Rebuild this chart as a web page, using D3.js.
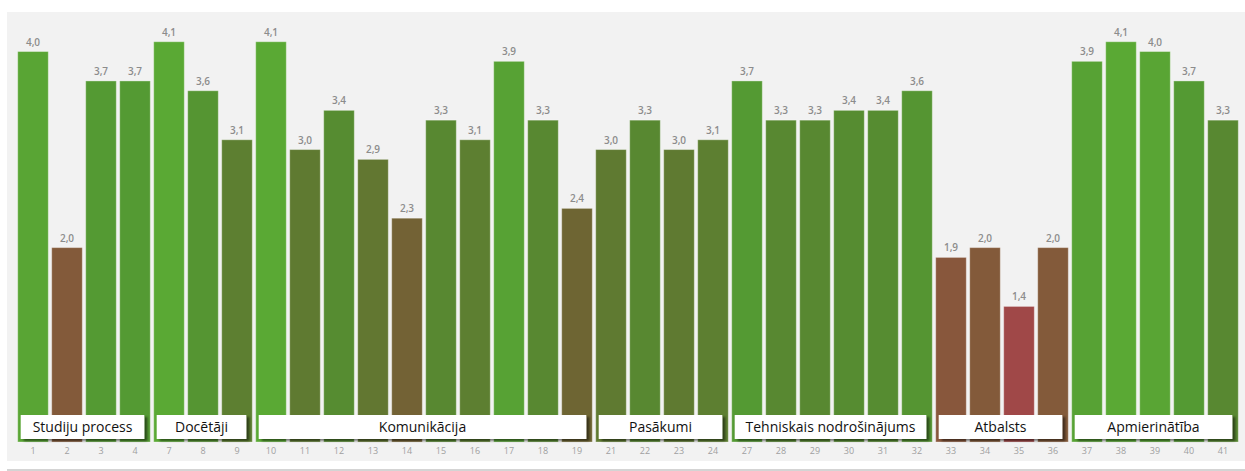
<!DOCTYPE html>
<html><head><meta charset="utf-8">
<script src="https://cdn.jsdelivr.net/npm/d3@7"></script>
<style>html,body{margin:0;padding:0;background:#fff;}svg{display:block;}</style>
</head><body>
<svg id="c" width="1245" height="471"></svg>
<script>
const categories = ["1","2","3","4","7","8","9","10","11","12","13","14","15","16","17","18","19","21","22","23","24","27","28","29","30","31","32","33","34","35","36","37","38","39","40","41"];
const values = [4.0,2.0,3.7,3.7,4.1,3.6,3.1,4.1,3.0,3.4,2.9,2.3,3.3,3.1,3.9,3.3,2.4,3.0,3.3,3.0,3.1,3.7,3.3,3.3,3.4,3.4,3.6,1.9,2.0,1.4,2.0,3.9,4.1,4.0,3.7,3.3];
const groupNames = ["Studiju process","Docētāji","Komunikācija","Pasākumi","Tehniskais nodrošinājums","Atbalsts","Apmierinātība"];
const groupFirst = ["1","7","10","21","27","33","37"];
const groupLast  = ["4","9","19","24","32","36","41"];

const svg = d3.select("#c");
const defs = svg.append("defs");
const f = defs.append("filter").attr("id","sh").attr("x","-10%").attr("y","-30%").attr("width","130%").attr("height","180%");
f.append("feDropShadow").attr("dx",3).attr("dy",2).attr("stdDeviation",1.2).attr("flood-color","#000").attr("flood-opacity",0.5);

svg.append("rect").attr("x",7).attr("y",12).attr("width",1238).attr("height",449).attr("fill","#f2f2f2");
svg.append("line").attr("x1",7).attr("x2",1245).attr("y1",470).attr("y2",470).attr("stroke","#d4d4d4").attr("stroke-width",2);

const x = d3.scaleBand().domain(categories).range([16,1240]).paddingInner(0.1).paddingOuter(0.05);
const y = d3.scaleLinear().domain([0.017,4.138]).range([442,38]);
const color = d3.scaleLinear()
  .domain([1.4,2.0,2.4,3.0,3.4,3.7,4.1])
  .range(["#a04848","#835a3a","#6e6533","#5f7a31","#568c31","#549a33","#5aa934"]);

const data = categories.map((c,i)=>({c, v: values[i]}));

svg.append("g").selectAll("rect").data(data).join("rect")
  .attr("x", d=>x(d.c)).attr("width", x.bandwidth())
  .attr("y", d=>y(d.v)).attr("height", d=>y.range()[0]-y(d.v))
  .attr("fill", d=>color(d.v))
  .attr("stroke","rgba(255,255,255,0.35)").attr("stroke-width",1);

const fmt = d3.format(".1f");
svg.append("g").selectAll("text").data(data).join("text")
  .attr("x", d=>x(d.c)+x.bandwidth()/2).attr("y", d=>y(d.v)-6)
  .attr("text-anchor","middle")
  .attr("font-family","'Open Sans', sans-serif").attr("font-size",10).attr("font-weight","600")
  .attr("fill","#8c8c8c")
  .text(d=>fmt(d.v).replace(".",","));

const xAxis = svg.append("g").attr("transform","translate(0,442)")
  .call(d3.axisBottom(x).tickSize(0).tickPadding(6));
xAxis.select(".domain").remove();
xAxis.selectAll("text").attr("font-family","'Open Sans', sans-serif").attr("font-size",9).attr("fill","#a0a0a0");

const groups = groupNames.map((n,i)=>({n, a: groupFirst[i], b: groupLast[i]}));
const gg = svg.append("g").selectAll("g").data(groups).join("g");
gg.append("rect")
  .attr("x", d=>x(d.a)+3)
  .attr("width", d=>x(d.b)+x.bandwidth()-6-(x(d.a)+3))
  .attr("y",415).attr("height",24)
  .attr("fill","#fff").attr("filter","url(#sh)");
gg.append("text")
  .attr("x", d=>(x(d.a)+3 + x(d.b)+x.bandwidth()-6)/2)
  .attr("y",432).attr("text-anchor","middle")
  .attr("font-family","'Open Sans', sans-serif").attr("font-size",14).attr("fill","#111")
  .text(d=>d.n);
</script>
</body></html>
